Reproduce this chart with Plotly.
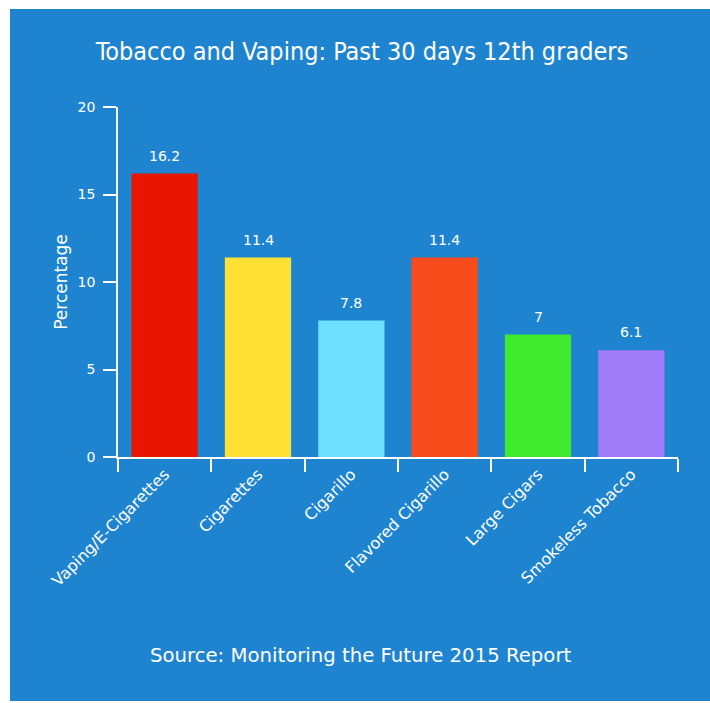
import plotly.graph_objects as go

categories = ["Vaping/E-Cigarettes", "Cigarettes", "Cigarillo", "Flavored Cigarillo", "Large Cigars", "Smokeless Tobacco"]
values = [16.2, 11.4, 7.8, 11.4, 7, 6.1]
labels = ["16.2", "11.4", "7.8", "11.4", "7", "6.1"]
colors = ["#E81600", "#FFE134", "#6EE0FF", "#F84B1C", "#3FE92B", "#A07CF8"]
y_ticks = [0, 5, 10, 15, 20]

BG = "#1F84D0"
W, H = 710, 703
L, R, T = 118, 32, 107
B = H - 457
pw, ph = W - L - R, H - T - B

def px_x(x):  # screen x -> paper
    return (x - L) / pw

def px_y(y):  # screen y -> paper
    return (H - B - y) / ph

fig = go.Figure()
fig.add_trace(go.Bar(
    x=categories, y=values, marker=dict(color=colors, line=dict(width=0)),
    hoverinfo="skip",
))

for c, v, t in zip(categories, values, labels):
    fig.add_annotation(x=c, y=v, text=t, showarrow=False, xanchor="center",
                       yanchor="bottom", yshift=8,
                       font=dict(color="white", size=14, family="DejaVu Sans"))

fig.add_shape(type="rect", xref="paper", yref="paper",
              x0=px_x(10), x1=px_x(720), y0=px_y(701), y1=px_y(9),
              fillcolor=BG, line=dict(width=0), layer="below")

fig.add_annotation(text="Source: Monitoring the Future 2015 Report",
                   xref="paper", yref="paper", x=px_x(360), y=px_y(655),
                   showarrow=False, xanchor="center", yanchor="middle",
                   font=dict(color="white", size=19.7, family="DejaVu Sans"))

fig.update_layout(
    width=W, height=H,
    margin=dict(l=L, r=R, t=T, b=B, pad=0),
    paper_bgcolor="white", plot_bgcolor="rgba(0,0,0,0)",
    bargap=0.29, showlegend=False,
    title=dict(text="Tobacco and Vaping: Past 30 days 12th graders",
               x=px_x(362), xref="paper", xanchor="center",
               y=1 - 51 / H, yref="container", yanchor="middle",
               font=dict(color="white", size=25, family="DejaVu Sans Condensed, DejaVu Sans")),
    font=dict(color="white", family="DejaVu Sans"),
    xaxis=dict(showline=True, linecolor="white", linewidth=1.5,
               ticks="outside", tickson="boundaries", ticklen=13, tickcolor="white", tickwidth=1.5,
               tickangle=-45, tickfont=dict(size=16, color="white", family="DejaVu Sans"),
               showgrid=False, zeroline=False, fixedrange=True),
    yaxis=dict(range=[0, 20], tickvals=y_ticks, showline=True, linecolor="white", linewidth=1.5,
               ticks="outside", ticklen=13, tickcolor="white", tickwidth=1.5,
               ticklabelstandoff=5,
               tickfont=dict(size=14, color="white", family="DejaVu Sans"),
               showgrid=False, zeroline=False, fixedrange=True,
               title=dict(text="Percentage", font=dict(size=17, color="white", family="DejaVu Sans"), standoff=6)),
)

fig.write_html("out.html", config={"displayModeBar": False},
               post_script="document.body.style.margin='0';document.body.style.overflow='hidden';")
